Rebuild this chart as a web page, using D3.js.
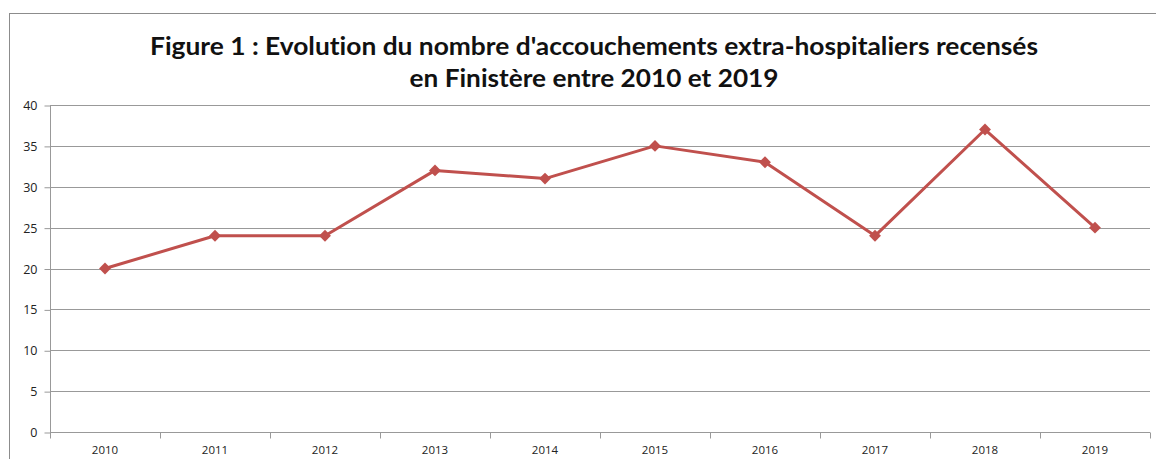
<!DOCTYPE html>
<html lang="fr">
<head>
<meta charset="utf-8">
<script src="https://d3js.org/d3.v7.min.js"></script>
<style>
  body { margin: 0; background: #fff; }
  svg text { font-family: "Open Sans", "DejaVu Sans", sans-serif; }
  svg text.title { font-family: Lato, "Open Sans", sans-serif; font-variant-ligatures: none; }
</style>
</head>
<body>
<script>
// data
var years = ["2010", "2011", "2012", "2013", "2014", "2015", "2016", "2017", "2018", "2019"];
var births = [20, 24, 24, 32, 31, 35, 33, 24, 37, 25];
var yTicks = [0, 5, 10, 15, 20, 25, 30, 35, 40];
var titleLines = [
  "Figure 1 : Evolution du nombre d'accouchements extra-hospitaliers recensés",
  "en Finistère entre 2010 et 2019"
];

var width = 1156, height = 459;
var plot = { left: 50, right: 1150, top: 105, bottom: 432 };

var svg = d3.select("body").append("svg")
  .attr("width", width)
  .attr("height", height);

// outer chart frame
svg.append("rect")
  .attr("x", 9.5).attr("y", 13.5)
  .attr("width", width + 10).attr("height", height + 10)
  .attr("fill", "none")
  .attr("stroke", "#8c8c8c");

// title
svg.selectAll(".title")
  .data(titleLines)
  .join("text")
  .attr("class", "title")
  .attr("x", 594)
  .attr("y", function (d, i) { return 55 + i * 32; })
  .attr("text-anchor", "middle")
  .attr("font-size", 24)
  .attr("font-weight", "bold")
  .attr("fill", "#111")
  .attr("textLength", function (d, i) { return i === 0 ? 888 : 369; })
  .attr("lengthAdjust", "spacingAndGlyphs")
  .text(function (d) { return d; });

var x = d3.scaleBand().domain(years).range([plot.left, plot.right]);
var y = d3.scaleLinear().domain([0, 40]).range([plot.bottom, plot.top]);

// horizontal gridlines
svg.append("g")
  .selectAll("line")
  .data(yTicks.filter(function (d) { return d > 0; }))
  .join("line")
  .attr("x1", plot.left).attr("x2", plot.right)
  .attr("y1", function (d) { return Math.round(y(d)) + 0.5; })
  .attr("y2", function (d) { return Math.round(y(d)) + 0.5; })
  .attr("stroke", "#999");

// y axis
var yAxis = svg.append("g")
  .attr("transform", "translate(" + (plot.left + 0.5) + ",0.5)")
  .call(d3.axisLeft(y).tickValues(yTicks).tickSize(6).tickPadding(7));
yAxis.select(".domain").attr("stroke", "#999").attr("d", "M0," + plot.bottom + "V" + plot.top);
yAxis.selectAll(".tick line").attr("stroke", "#999");
yAxis.selectAll(".tick text").attr("font-size", 12.5).attr("fill", "#222");

// x axis, ticks between categories
var xAxis = svg.append("g")
  .attr("transform", "translate(0," + (Math.round(plot.bottom) + 0.5) + ")");
xAxis.append("line")
  .attr("x1", plot.left).attr("x2", plot.right)
  .attr("stroke", "#999");
var bounds = years.map(function (d) { return x(d); }).concat([plot.right]);
xAxis.selectAll(".sep")
  .data(bounds)
  .join("line")
  .attr("class", "sep")
  .attr("x1", function (d) { return Math.round(d) + 0.5; })
  .attr("x2", function (d) { return Math.round(d) + 0.5; })
  .attr("y1", 0).attr("y2", 6)
  .attr("stroke", "#999");
xAxis.selectAll("text")
  .data(years)
  .join("text")
  .attr("x", function (d) { return x(d) + x.bandwidth() / 2; })
  .attr("y", 21)
  .attr("text-anchor", "middle")
  .attr("font-size", 11.5)
  .attr("fill", "#222")
  .text(function (d) { return d; });

// series line
var line = d3.line()
  .x(function (d, i) { return x(years[i]) + x.bandwidth() / 2; })
  .y(function (d) { return y(d); });

svg.append("path")
  .datum(births)
  .attr("d", line)
  .attr("fill", "none")
  .attr("stroke", "#C0504D")
  .attr("stroke-width", 3)
  .attr("stroke-linejoin", "round");

svg.append("g")
  .selectAll("path")
  .data(births)
  .join("path")
  .attr("d", d3.symbol().type(d3.symbolDiamond2).size(90))
  .attr("transform", function (d, i) {
    return "translate(" + (x(years[i]) + x.bandwidth() / 2) + "," + y(d) + ")";
  })
  .attr("fill", "#C0504D");
</script>
</body>
</html>
